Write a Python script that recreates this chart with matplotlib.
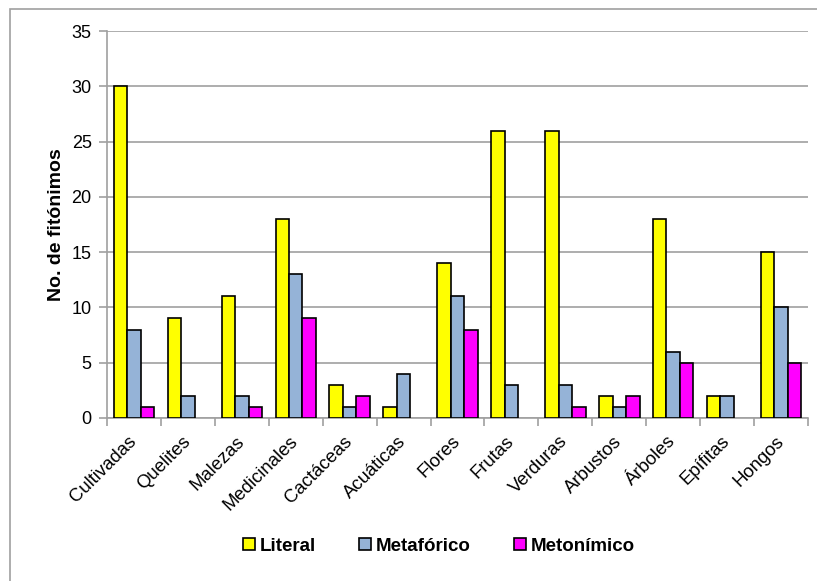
import matplotlib.pyplot as plt
from matplotlib.patches import Rectangle
import numpy as np

plt.rcParams["font.family"] = ["Liberation Sans", "DejaVu Sans"]

categorias = ["Cultivadas", "Quelites", "Malezas", "Medicinales", "Cactáceas",
              "Acuáticas", "Flores", "Frutas", "Verduras", "Arbustos",
              "Árboles", "Epífitas", "Hongos"]
literal = [30, 9, 11, 18, 3, 1, 14, 26, 26, 2, 18, 2, 15]
metaforico = [8, 2, 2, 13, 1, 4, 11, 3, 3, 1, 6, 2, 10]
metonimico = [1, 0, 1, 9, 2, 0, 8, 0, 1, 2, 5, 0, 5]

series = [
    ("Literal", literal, "#ffff00"),
    ("Metafórico", metaforico, "#95b3d7"),
    ("Metonímico", metonimico, "#ff00ff"),
]

fig = plt.figure(figsize=(8.17, 5.81), dpi=100)
ax = fig.add_axes([0.131, 0.2806, 0.858, 0.666])

x = np.arange(len(categorias))
width = 0.25
for i, (name, vals, color) in enumerate(series):
    vals = np.array(vals, dtype=float)
    keep = vals > 0  # empty categories get no bar outline
    ax.bar(x[keep] + (i - 1) * width, vals[keep], width, color=color,
           edgecolor="black", linewidth=1.2, label=name, zorder=3)

ax.set_xlim(-0.5, len(categorias) - 0.5)
ax.set_ylim(0, 35)
ax.set_yticks(range(0, 36, 5))
ax.yaxis.grid(True, color="#a0a0a0", linewidth=1.2, zorder=0)

ax.set_xticks(x)
ax.set_xticklabels(categorias, rotation=45, ha="right", va="center",
                   rotation_mode="anchor", fontsize=13.3)
ax.tick_params(axis="x", length=0, pad=15)
ax.set_xticks(np.arange(-0.5, len(categorias)), minor=True)
ax.tick_params(axis="x", which="minor", length=6, color="#a0a0a0", width=1.2)
ax.tick_params(axis="y", length=6, color="#a0a0a0", width=1.2, labelsize=13,
               pad=5)

for side in ["top", "right"]:
    ax.spines[side].set_visible(False)
for side in ["left", "bottom"]:
    ax.spines[side].set_color("#a0a0a0")
    ax.spines[side].set_linewidth(1.2)

ax.set_ylabel("No. de fitónimos", fontsize=14, fontweight="bold", labelpad=5)

leg = fig.legend(loc="center", bbox_to_anchor=(0.537, 0.06), ncol=3,
                 frameon=False, prop={"weight": "bold", "size": 13.5},
                 handlelength=0.65, handleheight=0.65, handletextpad=0.25,
                 columnspacing=2.3)

fig.patches.append(Rectangle((10 / 817, -0.05), 1.05, 1 - 9 / 581 + 0.05,
                             transform=fig.transFigure, fill=False,
                             edgecolor="#a0a0a0", linewidth=1.2))

fig.savefig("out.png", dpi=100)
